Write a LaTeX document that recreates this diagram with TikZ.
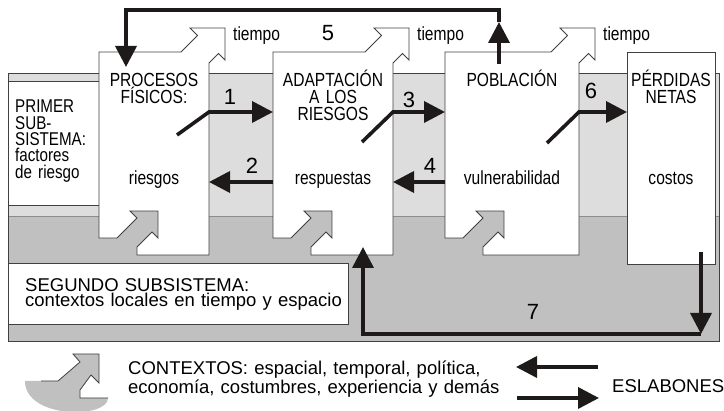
\documentclass[tikz,border=0pt]{standalone}
\usepackage{fontspec}
\setmainfont{Liberation Sans}
\newfontfamily\nrw{Liberation Sans}[FakeStretch=0.82]
\usetikzlibrary{arrows.meta}
\definecolor{lgray}{RGB}{221,221,221}
\definecolor{dgray}{RGB}{192,192,192}
\definecolor{ink}{RGB}{30,26,26}
\tikzstyle{edge}=[draw=black!75,line width=.8pt]
\tikzstyle{lnk}=[draw=ink,line width=3.6pt,-{Triangle[length=21pt,width=21pt]}]
\tikzstyle{hd}=[font=\nrw\fontsize{19}{17}\selectfont,text width=130pt,align=center,anchor=base,inner sep=0pt]
\tikzstyle{lft}=[font=\nrw\fontsize{18.5}{16.3}\selectfont,text width=90pt,align=left,anchor=base west,inner sep=0pt]
\tikzstyle{txt}=[font=\fontsize{18.5}{15}\selectfont,text width=420pt,align=left,anchor=base west,inner sep=0pt]
\tikzstyle{num}=[font=\fontsize{22}{22}\selectfont,inner sep=0pt]
\tikzstyle{tmp}=[font=\nrw\fontsize{19}{19}\selectfont,anchor=base west,inner sep=0pt]

\begin{document}
\begin{tikzpicture}[x=1pt,y=-1pt]
\useasboundingbox (0,0) rectangle (724,411);
% the two subsystems
\fill[lgray] (8,73) rectangle (719,216);
\fill[dgray] (8,216) rectangle (719,341);
\draw[edge,draw=black!45] (8,216) -- (719,216);
\draw[edge] (8,73) rectangle (719,341);
\draw[edge,fill=white] (8,81) rectangle (99,205);
\draw[edge,fill=white] (8,263) rectangle (348,324);
% columns with the tiempo arrow on top and the contexto arrow below
\foreach \L/\R in {99/209,273/393,445/579}{
  \fill[dgray] (\L+18,238) -- (\L+38,218) -- (\L+31,211) -- (\L+59,211) -- (\L+59,238)
    -- (\L+53,232) -- (\L+38,247) -- (\L+38,238) -- cycle;
  \draw[edge,fill=white] (\L,52) -- (\R-28,52) -- (\R-11.5,35.5) -- (\R-19,28) -- (\R+16,28)
    -- (\R+16,60) -- (\R+9.5,53.5) -- (\R,63) -- (\R,255) -- (\L+38,255) -- (\L+38,247)
    -- (\L+53,232) -- (\L+59,238) -- (\L+59,211) -- (\L+31,211) -- (\L+38,218)
    -- (\L+18,238) -- (\L,238) -- cycle;
  \node[tmp] at (\R+24,41) {tiempo};
}
\draw[edge,fill=white] (627,52) rectangle (715,264);

% texts
\node[lft] (ps) at (15,113) {PRIMER\\SUB-\\SISTEMA:\\factores\\de riesgo};
\node[hd] (pf) at (154,87) {PROCESOS\\FÍSICOS:};
\node[hd] (ar) at (333,87) {ADAPTACIÓN\\A LOS\\RIESGOS};
\node[hd] (pb) at (512,87) {POBLACIÓN};
\node[hd] (pn) at (671,87) {PÉRDIDAS\\NETAS};
\node[hd] (rg) at (154,185) {riesgos};
\node[hd] (rs) at (333,185) {respuestas};
\node[hd] (vl) at (512,185) {vulnerabilidad};
\node[hd] (cs) at (671,185) {costos};
\node[txt] (ss) at (25,292) {SEGUNDO SUBSISTEMA:\\contextos locales en tiempo y espacio};
\node[txt] (ctx) at (128,375) {CONTEXTOS: espacial, temporal, política,\\economía, costumbres, experiencia y demás};
\node[txt,text width=120pt] (esl) at (612,393) {ESLABONES};

% links
\coordinate (s1) at (177,135); \coordinate (k1) at (209,112); \coordinate (e1) at (273,112);
\coordinate (s2) at (273,182); \coordinate (e2) at (209,182);
\coordinate (s3) at (362,142); \coordinate (k3) at (393,112); \coordinate (e3) at (445,112);
\coordinate (s4) at (445,182); \coordinate (e4) at (393,182);
\coordinate (s6) at (547,143); \coordinate (k6) at (579,112); \coordinate (e6) at (627,112);
\draw[lnk] (s1) -- (k1) -- (e1);
\draw[lnk] (s2) -- (e2);
\draw[lnk] (s3) -- (k3) -- (e3);
\draw[lnk] (s4) -- (e4);
\draw[lnk] (s6) -- (k6) -- (e6);
\node[num] (n1) at (230,97) {1};
\node[num] (n2) at (252,166) {2};
\node[num] (n3) at (409,100) {3};
\node[num] (n4) at (430,166) {4};
\node[num] (n6) at (591,91) {6};

% 5: back from the population to the physical processes
\coordinate (s5) at (499,64); \coordinate (m5) at (499,22);
\coordinate (a5) at (499,10); \coordinate (b5) at (126,10); \coordinate (e5) at (126,67);
\draw[lnk] (s5) -- (m5);
\draw[lnk] (m5) -- (a5) -- (b5) -- (e5);
\node[num] (n5) at (328,33) {5};

% 7: from the losses to the adaptation
\coordinate (s7) at (701,252); \coordinate (m7) at (701,334);
\coordinate (b7) at (363,334); \coordinate (e7) at (363,247);
\draw[lnk] (s7) -- (m7);
\draw[lnk] (m7) -- (b7) -- (e7);
\node[num] (n7) at (533,312) {7};

% legend
\fill[dgray] (25,381) -- (58,381) -- (80,362) -- (73,354) -- (99,354) -- (99,383) -- (91,375)
  -- (80,390) -- (80,398) -- (108,398) .. controls (108,419) and (25,419) .. (25,381) -- cycle;
\draw[edge] (41,381) -- (58,381) -- (80,362) -- (73,354) -- (99,354) -- (99,383) -- (91,375)
  -- (80,390) -- (80,398) -- (108,398);
\coordinate (l1) at (598,367); \coordinate (l2) at (516,367);
\coordinate (r1) at (517,398); \coordinate (r2) at (599,398);
\draw[lnk] (l1) -- (l2);
\draw[lnk] (r1) -- (r2);
\end{tikzpicture}
\end{document}
